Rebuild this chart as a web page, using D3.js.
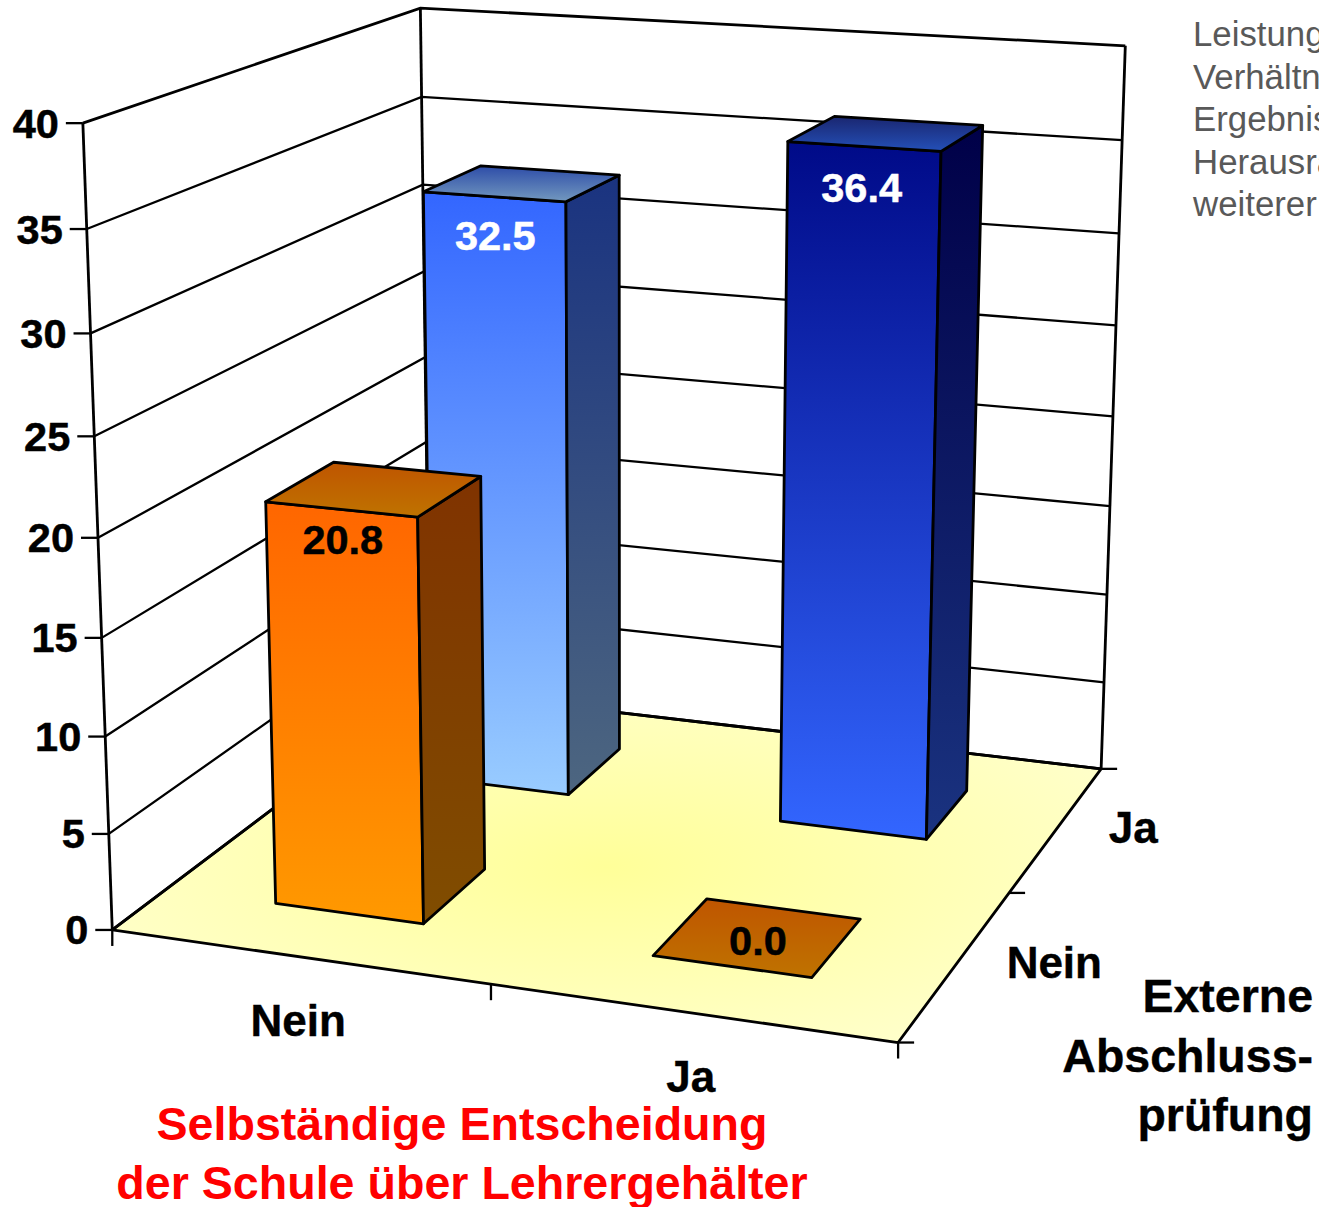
<!DOCTYPE html>
<html lang="de">
<head>
<meta charset="utf-8">
<title>Selbständige Entscheidung der Schule über Lehrergehälter</title>
<script src="https://cdn.jsdelivr.net/npm/d3@7"></script>
<style>
  html, body { margin: 0; background: #fff; overflow: hidden; }
  svg { display: block; font-family: "Liberation Sans", Arial, sans-serif; }
  .bold { font-weight: 700; }
</style>
</head>
<body>
<svg id="chart" width="1319" height="1207"></svg>
<script>
// Chart values
const schoolDecision = ["Nein", "Ja"];
const externalExam = ["Nein", "Ja"];
const barsNeinExam = [20.8, 0.0];   // external exam: Nein, by school decision
const barsJaExam = [32.5, 36.4];    // external exam: Ja, by school decision
const valueTicks = [0, 5, 10, 15, 20, 25, 30, 35, 40];
const titleLines = ["Selbständige Entscheidung", "der Schule über Lehrergehälter"];
const depthTitleLines = ["Externe", "Abschluss-", "prüfung"];
const noteLines = ["Leistungs-", "Verhältnis", "Ergebnis", "Herausragende", "weiterer"];

// Camera calibration: model point [x, value, depth] -> screen point.
const cameraAnchors = [
  [[0, 0, 0], [113, 930]], [[0, 0, 0], [113, 930]], [[0, 0, 0], [113, 930]],
  [[0, 10, 0], [104, 737]], [[0, 20, 0], [97.5, 537]], [[0, 30, 0], [90.5, 334]], [[0, 40, 0], [83, 123]],
  [[1, 0, 0], [898, 1042]], [[1, 0, 1], [1101, 769]], [[0, 0, 1], [429, 690]], [[0, 40, 1], [421, 8]],
  [[1, 40, 1], [1125, 46]], [[1, 30, 1], [1119, 233]], [[1, 20, 1], [1113, 416]], [[1, 10, 1], [1107, 596]],
  [[0.5, 0, 0], [490, 985]], [[1, 0, 0.5], [1010, 892]]
];

// Least-squares fit of a 3x4 projective camera from the anchors.
function fitCamera(anchors) {
  const rows = [], rhs = [];
  anchors.forEach(([[x, y, z], [u, v]]) => {
    const s = y / 40;
    rows.push([x, s, z, 1, 0, 0, 0, 0, -u * x, -u * s, -u * z]); rhs.push(u);
    rows.push([0, 0, 0, 0, x, s, z, 1, -v * x, -v * s, -v * z]); rhs.push(v);
  });
  const n = 11;
  const A = d3.range(n).map(i => d3.range(n + 1).map(j =>
    d3.sum(rows, (r, k) => r[i] * (j < n ? r[j] : rhs[k]))));
  for (let c = 0; c < n; c++) {
    let p = c;
    for (let r = c + 1; r < n; r++) if (Math.abs(A[r][c]) > Math.abs(A[p][c])) p = r;
    [A[c], A[p]] = [A[p], A[c]];
    for (let r = 0; r < n; r++) {
      if (r === c) continue;
      const f = A[r][c] / A[c][c];
      for (let j = c; j <= n; j++) A[r][j] -= f * A[c][j];
    }
  }
  return d3.range(n).map(i => A[i][n] / A[i][i]);
}
const cam = fitCamera(cameraAnchors);
const valueScale = d3.scaleLinear().domain([0, 40]).range([0, 1]);
function project(x, value, z) {
  const s = valueScale(value);
  const w = cam[8] * x + cam[9] * s + cam[10] * z + 1;
  return [(cam[0] * x + cam[1] * s + cam[2] * z + cam[3]) / w,
          (cam[4] * x + cam[5] * s + cam[6] * z + cam[7]) / w];
}

const xBand = d3.scaleBand().domain(schoolDecision).range([0, 1]).paddingInner(0.6).paddingOuter(0.3);
const zBand = d3.scaleBand().domain(externalExam).range([0, 1]).paddingInner(0.6).paddingOuter(0.3);
// Data labels sit a little lower on taller bars
const labelDrop = d3.scaleLinear().domain([20, 40]).range([29.4, 43.5]);

const svg = d3.select("#chart");
const defs = svg.append("defs");
const line = d3.line();
const closed = pts => line(pts) + "Z";

function vGradient(id, top, bottom) {
  const g = defs.append("linearGradient").attr("id", id).attr("x1", 0).attr("y1", 0).attr("x2", 0).attr("y2", 1);
  g.append("stop").attr("offset", 0).attr("stop-color", top);
  g.append("stop").attr("offset", 1).attr("stop-color", bottom);
}
const palettes = {
  orange: { front: ["#ff6600", "#ff9900"], side: ["#803300", "#804d00"], top: ["#bf5500", "#bf7300"] },
  light:  { front: ["#3366ff", "#99ccff"], side: ["#1a3380", "#4d6680"], top: ["#2d4ca8", "#7399bf"] },
  dark:   { front: ["#000a88", "#3366ff"], side: ["#000048", "#1a3380"], top: ["#1a2670", "#2450b8"] }
};
Object.entries(palettes).forEach(([name, p]) =>
  Object.entries(p).forEach(([face, c]) => vGradient(`${name}-${face}`, c[0], c[1])));

const floorGrad = defs.append("radialGradient").attr("id", "floor").attr("cx", 0.5).attr("cy", 0.5).attr("r", 0.6);
floorGrad.append("stop").attr("offset", 0).attr("stop-color", "#ffff99");
floorGrad.append("stop").attr("offset", 1).attr("stop-color", "#ffffcc");

const stroke = 2.8;
const thin = 2.3;
const maxV = valueTicks[valueTicks.length - 1];

// Floor
svg.append("path")
  .attr("d", closed([project(0, 0, 0), project(1, 0, 0), project(1, 0, 1), project(0, 0, 1)]))
  .attr("fill", "url(#floor)").attr("stroke", "#000").attr("stroke-width", stroke).attr("stroke-linejoin", "round");

// Gridlines on the two walls, frame uprights
const wallLines = svg.append("g").attr("fill", "none").attr("stroke", "#000").attr("stroke-width", stroke);
valueTicks.forEach(v => {
  wallLines.append("path").attr("d", line([project(0, v, 0), project(0, v, 1), project(1, v, 1)]))
    .attr("stroke-width", v === 0 || v === maxV ? stroke : thin);
});
wallLines.append("path").attr("d", line([project(0, 0, 0), project(0, maxV, 0)]));
wallLines.append("path").attr("d", line([project(0, 0, 1), project(0, maxV, 1)]));
wallLines.append("path").attr("d", line([project(1, 0, 1), project(1, maxV, 1)]));

// Axis ticks and value labels
const axisG = svg.append("g");
valueTicks.forEach(v => {
  const [px, py] = project(0, v, 0);
  axisG.append("line").attr("x1", px - 17).attr("x2", px).attr("y1", py).attr("y2", py)
    .attr("stroke", "#000").attr("stroke-width", thin);
  axisG.append("text").attr("class", "bold").attr("x", px - 24).attr("y", py + 14.5)
    .attr("text-anchor", "end").attr("font-size", 41.5).attr("stroke", "#000").attr("stroke-width", 0.5).text(v);
});
[0, 0.5, 1].forEach(x => {
  const [px, py] = project(x, 0, 0);
  axisG.append("line").attr("x1", px).attr("x2", px).attr("y1", py).attr("y2", py + 16)
    .attr("stroke", "#000").attr("stroke-width", thin);
});
[0, 0.5, 1].forEach(z => {
  const [px, py] = project(1, 0, z);
  axisG.append("line").attr("x1", px).attr("x2", px + 16).attr("y1", py).attr("y2", py)
    .attr("stroke", "#000").attr("stroke-width", thin);
});

// Bars, painted from the back row to the front row
const bars = [
  { xKey: "Nein", zKey: "Ja", value: barsJaExam[0], palette: "light", label: "#fff" },
  { xKey: "Ja", zKey: "Ja", value: barsJaExam[1], palette: "dark", label: "#fff" },
  { xKey: "Ja", zKey: "Nein", value: barsNeinExam[1], palette: "orange", label: "#000" },
  { xKey: "Nein", zKey: "Nein", value: barsNeinExam[0], palette: "orange", label: "#000" }
];
const barG = svg.append("g").attr("stroke", "#000").attr("stroke-width", stroke).attr("stroke-linejoin", "round");
const labelG = svg.append("g");
bars.forEach(b => {
  const x0 = xBand(b.xKey), x1 = x0 + xBand.bandwidth();
  const z0 = zBand(b.zKey), z1 = z0 + zBand.bandwidth();
  const v = b.value;
  if (v > 0) {
    barG.append("path").attr("fill", `url(#${b.palette}-front)`)
      .attr("d", closed([project(x0, v, z0), project(x1, v, z0), project(x1, 0, z0), project(x0, 0, z0)]));
    barG.append("path").attr("fill", `url(#${b.palette}-side)`)
      .attr("d", closed([project(x1, v, z0), project(x1, v, z1), project(x1, 0, z1), project(x1, 0, z0)]));
  }
  barG.append("path").attr("fill", `url(#${b.palette}-top)`)
    .attr("d", closed([project(x0, v, z0), project(x1, v, z0), project(x1, v, z1), project(x0, v, z1)]));
  const xm = (x0 + x1) / 2;
  const lx = v > 0 ? project(xm, v * 0.8, z0)[0] : project(xm, 0, (z0 + z1) / 2)[0];
  const ly = v > 0 ? project(xm, v, z0)[1] + labelDrop(v) : project(xm, 0, (z0 + z1) / 2)[1] + 3;
  labelG.append("text").attr("class", "bold").attr("x", lx).attr("y", ly + 14.5)
    .attr("text-anchor", "middle").attr("font-size", 41.5)
    .attr("fill", b.label).attr("stroke", b.label).attr("stroke-width", 0.5).text(v.toFixed(1));
});

// Category labels along the floor edges
const catG = svg.append("g").attr("class", "bold").attr("font-size", 44).attr("text-anchor", "middle")
  .attr("stroke", "#000").attr("stroke-width", 0.4);
schoolDecision.forEach(c => {
  const [px, py] = project(xBand(c) + xBand.bandwidth() / 2, 0, 0);
  catG.append("text").attr("x", px).attr("y", py + 79).text(c);
});
const depthLabelOffset = { Nein: [98, 14], Ja: [76, 15] };
externalExam.forEach(c => {
  const [px, py] = project(1, 0, zBand(c) + zBand.bandwidth() / 2);
  catG.append("text").attr("x", px + depthLabelOffset[c][0]).attr("y", py + depthLabelOffset[c][1]).text(c);
});

// Axis titles
const titleG = svg.append("g").attr("class", "bold").attr("font-size", 46.6).attr("fill", "#ff0000").attr("text-anchor", "middle");
titleLines.forEach((t, i) => titleG.append("text").attr("x", 462).attr("y", 1140 + i * 58.5).text(t));
const depthG = svg.append("g").attr("class", "bold").attr("font-size", 46.5).attr("text-anchor", "end")
  .attr("stroke", "#000").attr("stroke-width", 0.4);
depthTitleLines.forEach((t, i) => depthG.append("text").attr("x", 1313).attr("y", 1012 + i * 59.5).text(t));

// Side note running off the page edge
const noteG = svg.append("g").attr("font-size", 34.8).attr("fill", "#595959");
noteLines.forEach((t, i) => noteG.append("text").attr("x", 1193).attr("y", 46 + i * 42.5).text(t));
</script>
</body>
</html>
